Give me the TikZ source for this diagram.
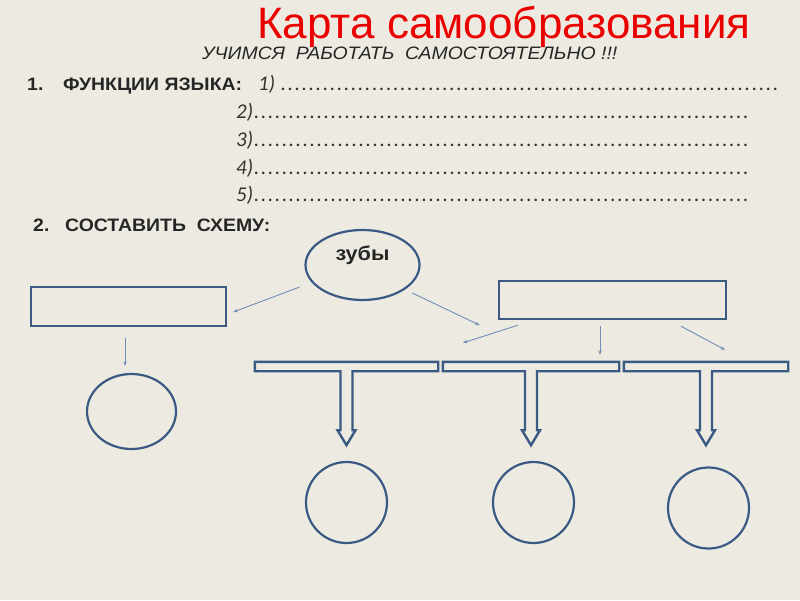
\documentclass[tikz,border=0pt]{standalone}
\usepackage{fontspec}
\setmainfont{Liberation Sans}
\newfontfamily\widefont[FakeStretch=1.08]{Liberation Sans}
\newfontfamily\itemfont{Carlito}
\usetikzlibrary{shapes.geometric, arrows.meta, positioning, calc}

\definecolor{slidebg}{RGB}{237,235,225}
\definecolor{schemeblue}{RGB}{58,90,132}
\definecolor{arrowblue}{RGB}{112,142,182}
\definecolor{titlered}{RGB}{235,0,0}

\newcommand{\dotrow}[1]{\makebox[#1][l]{\xleaders\hbox to 7pt{\hss.\hss}\hfill}}

\begin{document}
\begin{tikzpicture}[
    x=1pt, y=-1pt,
    title/.style={
        font=\fontsize{44}{48}\selectfont,
        text=titlered,
        inner sep=0pt
    },
    motto/.style={
        font=\widefont\itshape\fontsize{18}{22}\selectfont,
        text=black!85,
        inner sep=0pt
    },
    heading/.style={
        font=\widefont\bfseries\fontsize{18}{22}\selectfont,
        text=black!85,
        inner sep=0pt,
        anchor=base west
    },
    answer/.style={
        font=\itemfont\itshape\fontsize{21}{24}\selectfont,
        text=black!80,
        inner sep=0pt,
        anchor=base west
    },
    frame/.style={
        rectangle,
        draw=schemeblue,
        line width=2.4pt
    },
    oval/.style={
        ellipse,
        draw=schemeblue,
        line width=2.2pt,
        inner sep=0pt
    },
    ring/.style={
        circle,
        draw=schemeblue,
        line width=2.2pt,
        minimum size=81pt,
        inner sep=0pt
    },
    bar/.style={
        rectangle,
        minimum height=9pt,
        inner sep=0pt
    },
    tarrow/.style={
        draw=schemeblue,
        line width=2.4pt,
        line join=miter
    },
    link/.style={
        draw=arrowblue,
        line width=0.9pt,
        -{Stealth[length=4.5pt,width=3.5pt]}
    }
]
    \fill[slidebg] (0,0) rectangle (800,600);
    \useasboundingbox (0,0) rectangle (800,600);

    % Header
    \node [title, anchor=base] (title) at (504,38) {Карта самообразования};
    \node [motto, anchor=base west] (motto) at (202,59) {УЧИМСЯ\ \ РАБОТАТЬ\ \ САМОСТОЯТЕЛЬНО !!!};

    % Task 1
    \node [heading] (task1) at (27,90) {\makebox[36pt][l]{1.}ФУНКЦИИ ЯЗЫКА:};
    \node [answer] (ans1) at (258,90) {1) \dotrow{500pt}};
    \foreach \n/\y in {2/118, 3/146, 4/174, 5/201}
        \node [answer] (ans\n) at (236,\y) {\n)\dotrow{497pt}};

    % Task 2
    \node [heading] (task2) at (33,231) {\makebox[32pt][l]{2.}СОСТАВИТЬ\ \ СХЕМУ:};

    % Scheme
    \node [oval, minimum width=114pt, minimum height=70pt,
           label={[font=\widefont\bfseries\fontsize{20}{22}\selectfont, text=black!85, yshift=10pt]center:зубы}] (teeth) at (362.5,265) {};
    \node [frame, minimum width=195pt, minimum height=39pt] (leftbox) at (128.5,306.5) {};
    \node [frame, minimum width=227pt, minimum height=38pt] (rightbox) at (612.5,300) {};
    \node [oval, minimum width=89pt, minimum height=75pt] (leftcirc) at (131.5,411.5) {};

    \node [bar, minimum width=183pt] (bar1) at (346.5,366.5) {};
    \node [bar, minimum width=176pt] (bar2) at (531,366.5) {};
    \node [bar, minimum width=164pt] (bar3) at (706,366.5) {};

    \node [ring] (circ1) at (346.5,502.5) {};
    \node [ring] (circ2) at (533.5,502.5) {};
    \node [ring] (circ3) at (708.5,508) {};

    % T arrows
    \foreach \b in {bar1,bar2,bar3}
        \draw [tarrow] let \p1=(\b.south) in
            (\b.north west) -- (\b.north east) -- (\b.south east)
            -- (\x1+6pt,\y1) -- (\x1+6pt,\y1-59pt) -- (\x1+9pt,\y1-59pt)
            -- (\x1,\y1-74pt)
            -- (\x1-9pt,\y1-59pt) -- (\x1-6pt,\y1-59pt) -- (\x1-6pt,\y1)
            -- (\b.south west) -- cycle;

    % Arrows
    \draw [link, shorten <=13pt] (teeth.199) -- ([xshift=6pt,yshift=-5.5pt]leftbox.east);
    \draw [link, shorten <=8pt] (teeth.330) -- ([xshift=-18pt,yshift=-5pt]rightbox.south west);
    \draw [link] ([xshift=-3.5pt,yshift=-11pt]leftbox.south) -- ([xshift=-6.5pt,yshift=7pt]leftcirc.north);
    \draw [link] ([xshift=-94.5pt,yshift=-5pt]rightbox.south) -- ([xshift=-68pt,yshift=19pt]bar2.north);
    \draw [link] ([xshift=-12.5pt,yshift=-6pt]rightbox.south) -- ([xshift=69pt,yshift=7pt]bar2.north);
    \draw [link] ([xshift=68.5pt,yshift=-6pt]rightbox.south) -- ([xshift=19pt,yshift=12pt]bar3.north);
\end{tikzpicture}
\end{document}
